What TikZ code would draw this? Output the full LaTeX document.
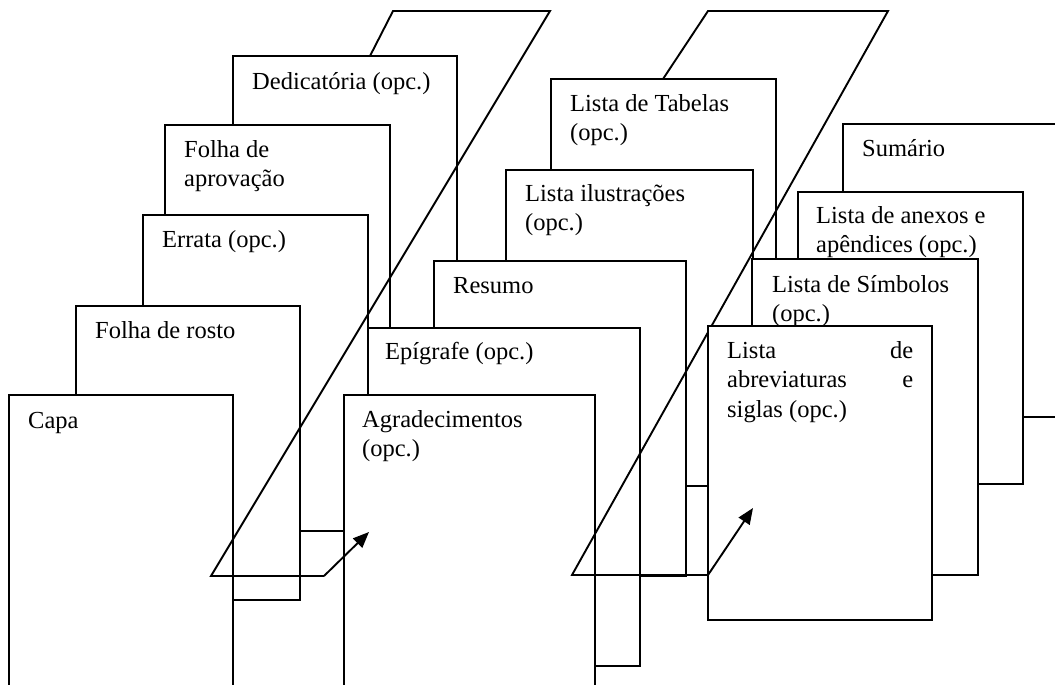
\documentclass[tikz,border=0pt]{standalone}
\usepackage{fontspec}
\setmainfont{Liberation Serif}
\usetikzlibrary{arrows.meta}
\begin{document}
\begin{tikzpicture}[x=1pt,y=-1pt,
  page/.style={draw=black,fill=white,line width=1.9pt},
  lbl/.style={anchor=base west,inner sep=0pt,align=flush left,text width=205pt,
    font=\fontsize{24.5}{29.5}\selectfont},
  flow/.style={draw=black,line width=1.9pt,line join=miter},
  tip/.style={-{Triangle[length=16pt,width=13pt]}}]
\useasboundingbox (0,0) rectangle (1055,685);
\clip (0,0) rectangle (1055,685);
% ---- group A (back to front)
\path[page] (233,56) rectangle (457,450);
\node[lbl] (tDed) at (252,89) {Dedicatória (opc.)};
\path[page] (165,125) rectangle (390,480);
\node[lbl] (tApr) at (184,157) {Folha de\par aprovação};
\path[page] (143,215) rectangle (368,531);
\node[lbl] (tErr) at (162,247) {Errata (opc.)};
\path[page] (76,306) rectangle (300,600);
\node[lbl] (tRos) at (95,338) {Folha de rosto};
\path[page] (9,395) rectangle (233,700);
\node[lbl] (tCapa) at (28,428) {Capa};
% ---- group B (back to front)
\path[page] (551,79) rectangle (776,400);
\node[lbl] (tTab) at (570,111) {Lista de Tabelas\par (opc.)};
\path[page] (506,170) rectangle (753,486);
\node[lbl] (tIlu) at (525,201) {Lista ilustrações\par (opc.)};
\path[page] (434,261) rectangle (686,576);
\node[lbl] (tRes) at (453,293) {Resumo};
\path[page] (368,328) rectangle (640,666);
\node[lbl] (tEpi) at (385,359) {Epígrafe (opc.)};
\path[page] (344,395) rectangle (595,700);
\node[lbl] (tAgr) at (362,427) {Agradecimentos\par (opc.)};
% ---- flow shape 1
\coordinate (f1a) at (370,56);
\coordinate (f1b) at (393,11);
\coordinate (f1c) at (550,11);
\coordinate (f1d) at (211,576);
\coordinate (f1e) at (324,576);
\coordinate (f1t) at (369,532);
\draw[flow] (f1a) -- (f1b) -- (f1c) -- (f1d) -- (f1e);
\draw[flow,tip] (f1e) -- (f1t);
% ---- flow shape 2
\coordinate (f2a) at (663,79);
\coordinate (f2b) at (708,11);
\coordinate (f2c) at (888,11);
\coordinate (f2d) at (572,575);
\coordinate (f2e) at (708,575);
\coordinate (f2t) at (753,508);
\draw[flow] (f2a) -- (f2b) -- (f2c) -- (f2d) -- (f2e);
% ---- group C (back to front)
\path[page] (843,124) rectangle (1080,417);
\node[lbl] (tSum) at (862,156) {Sumário};
\path[page] (798,192) rectangle (1023,484);
\node[lbl] (tAne) at (816,223) {Lista de anexos e\par apêndices (opc.)};
\path[page] (752,259) rectangle (978,575);
\node[lbl] (tSim) at (772,292) {Lista de Símbolos\par (opc.)};
\path[page] (708,326) rectangle (932,620);
\node[lbl,text width=186pt] (tAbr) at (727,358) {Lista\hfill de\par abreviaturas\hfill e\par siglas (opc.)};
\draw[flow,tip] (f2e) -- (f2t);
\end{tikzpicture}
\end{document}
